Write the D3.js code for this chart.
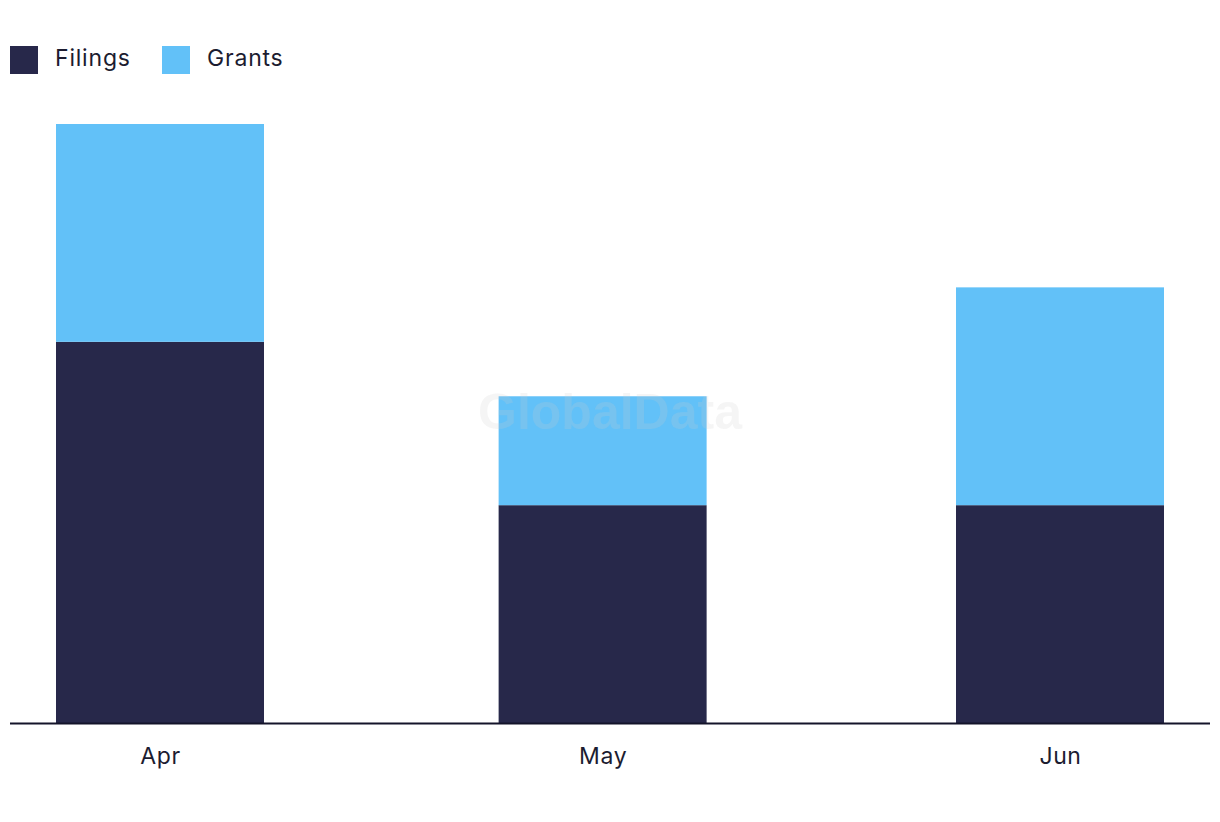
<!DOCTYPE html>
<html>
<head>
<meta charset="utf-8">
<script src="https://cdn.jsdelivr.net/npm/d3@7"></script>
<style>
  html, body { margin: 0; padding: 0; background: #ffffff; }
  svg { display: block; font-family: Inter, "Noto Sans", sans-serif; }
</style>
</head>
<body>
<svg id="chart" width="1220" height="822"></svg>
<script>
// ---- data ----
const months = ["2024-04-01", "2024-05-01", "2024-06-01"];
const monthLabels = ["Apr", "May", "Jun"];
const filings = [7, 4, 4];
const grants = [4, 2, 4];
const seriesNames = ["Filings", "Grants"];
const seriesColors = ["#27284a", "#62c1f8"];
const xDomain = ["2024-03-21T20:00:00", "2024-06-11T04:00:00"];
const yMax = 11;

// ---- layout ----
const W = 1220, H = 822;
const left = 10, right = 1210, baseY = 723, topY = 124;
const barW = 208;

const svg = d3.select("#chart");
const parse = s => new Date(s);

const x = d3.scaleTime().domain(xDomain.map(parse)).range([left, right]);
const y = d3.scaleLinear().domain([0, yMax]).range([baseY, topY]);

const rows = months.map((m, i) => ({ date: parse(m), label: monthLabels[i], Filings: filings[i], Grants: grants[i] }));
const stacked = d3.stack().keys(seriesNames)(rows);
const color = d3.scaleOrdinal().domain(seriesNames).range(seriesColors);

// bars
svg.append("g").selectAll("g").data(stacked).join("g")
  .attr("fill", d => color(d.key))
  .selectAll("rect").data(d => d).join("rect")
  .attr("x", d => x(d.data.date) - barW / 2)
  .attr("width", barW)
  .attr("y", d => y(d[1]))
  .attr("height", d => y(d[0]) - y(d[1]));

// watermark
svg.append("text")
  .attr("x", 610).attr("y", 429)
  .attr("text-anchor", "middle")
  .attr("font-family", "'Liberation Sans', Arial, sans-serif")
  .attr("font-weight", "bold")
  .attr("font-size", 50)
  .attr("fill", "#cccccc")
  .attr("fill-opacity", 0.2)
  .text("GlobalData");

// x axis
const xAxis = d3.axisBottom(x)
  .tickValues(rows.map(r => r.date))
  .tickFormat((d, i) => monthLabels[i])
  .tickSize(0)
  .tickPadding(25);

const gx = svg.append("g").attr("transform", `translate(0,${baseY})`).call(xAxis);
gx.select(".domain").attr("stroke", "#14142a").attr("stroke-width", 2).attr("d", `M${left},0.5H${right}`);
gx.selectAll("text")
  .attr("font-family", "Inter, 'Noto Sans', sans-serif")
  .attr("font-size", 23)
  .attr("letter-spacing", "0.6px")
  .attr("fill", "#1c1c30");

// legend
const legend = svg.append("g").attr("transform", "translate(10,46)");
const legendX = [0, 152];
seriesNames.forEach((name, i) => {
  const g = legend.append("g").attr("transform", `translate(${legendX[i]},0)`);
  g.append("rect").attr("width", 28).attr("height", 28).attr("fill", color(name));
  g.append("text").attr("x", 45).attr("y", 12).attr("dy", "0.35em")
    .attr("font-size", 23).attr("letter-spacing", "0.8px")
    .attr("fill", "#1c1c30").text(name);
});
</script>
</body>
</html>
